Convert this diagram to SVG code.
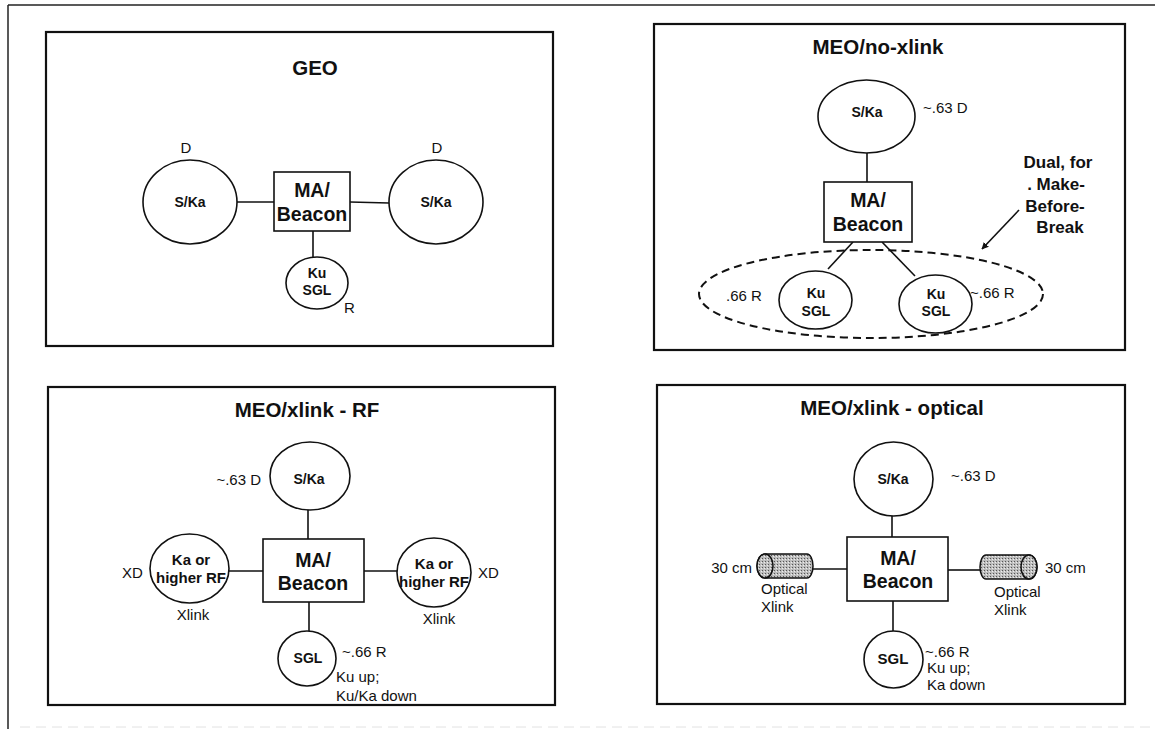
<svg xmlns="http://www.w3.org/2000/svg" width="1155" height="729" viewBox="0 0 1155 729">
<style>
text{font-family:"Liberation Sans",Arial,sans-serif;fill:#111}
.t{font-size:20.5px;font-weight:bold;text-anchor:middle}
.b{font-size:19.5px;font-weight:bold;text-anchor:middle}
.n{font-size:14px;font-weight:bold;text-anchor:middle}
.m{font-size:15px;font-weight:bold;text-anchor:middle}
.l{font-size:15px}
.panel{fill:none;stroke:#111;stroke-width:2.2}
.node{fill:#fff;stroke:#111;stroke-width:1.6}
.c{stroke:#111;stroke-width:1.6;fill:none}
.cyl{fill:url(#stip);stroke:#111;stroke-width:1.5}
</style>
<defs>
<pattern id="stip" width="3" height="3" patternUnits="userSpaceOnUse">
<rect width="3" height="3" fill="#bdbdbd"/>
<rect x="0" y="0" width="1" height="1" fill="#555"/>
<rect x="2" y="1" width="1" height="1" fill="#eee"/>
</pattern>
<marker id="ah" viewBox="0 0 10 10" refX="9" refY="5" markerWidth="7" markerHeight="7" orient="auto" markerUnits="userSpaceOnUse">
<path d="M0,0 L10,5 L0,10 Z" fill="#111"/>
</marker>
</defs>
<rect width="1155" height="729" fill="#fff"/>
<g id="frame">
<line x1="8" y1="5" x2="1155" y2="5" stroke="#222" stroke-width="1.5"/>
<line x1="8" y1="5" x2="8" y2="729" stroke="#222" stroke-width="1.5"/>
<line x1="20" y1="727" x2="1155" y2="727" stroke="#e2e2e2" stroke-width="1" stroke-dasharray="10 6"/>
</g>

<g id="panel-geo">
<rect class="panel" x="46" y="32" width="507" height="314"/>
<text class="t" x="315" y="75">GEO</text>
</g>
<g id="connectors">
<line class="c" x1="237" y1="202" x2="274" y2="202"/>
<line class="c" x1="350" y1="202" x2="389" y2="203"/>
<line class="c" x1="313" y1="231" x2="313" y2="257"/>
<line class="c" x1="867" y1="153" x2="867" y2="182"/>
<line class="c" x1="853" y1="242" x2="828" y2="269"/>
<line class="c" x1="882" y1="242" x2="915" y2="276"/>
<line class="c" x1="1019" y1="210" x2="982" y2="249" marker-end="url(#ah)"/>
<line class="c" x1="308" y1="510" x2="308" y2="539"/>
<line class="c" x1="229" y1="571" x2="263" y2="571"/>
<line class="c" x1="364" y1="571" x2="397" y2="571"/>
<line class="c" x1="309" y1="602" x2="309" y2="631"/>
<line class="c" x1="892" y1="516" x2="892" y2="537"/>
<line class="c" x1="813" y1="569" x2="847" y2="569"/>
<line class="c" x1="948" y1="570" x2="980" y2="570"/>
<line class="c" x1="893" y1="601" x2="893" y2="631"/>
</g>
<g id="geo-ska-left">
<ellipse class="node" cx="190" cy="202" rx="47" ry="42"/>
<text class="n" x="190" y="207">S/Ka</text>
<text class="l" x="186" y="153" text-anchor="middle">D</text>
</g>
<g id="geo-ma">
<rect class="node" x="274" y="172" width="76" height="59"/>
<text class="b" x="312" y="197">MA/</text>
<text class="b" x="312" y="221">Beacon</text>
</g>
<g id="geo-ska-right">
<ellipse class="node" cx="436" cy="202" rx="47" ry="42"/>
<text class="n" x="436" y="207">S/Ka</text>
<text class="l" x="437" y="153" text-anchor="middle">D</text>
</g>
<g id="geo-sgl">
<ellipse class="node" cx="317" cy="283" rx="31" ry="26"/>
<text class="n" x="317" y="278">Ku</text>
<text class="n" x="317" y="295">SGL</text>
<text class="l" x="344" y="313">R</text>
</g>

<g id="panel-meo-noxlink">
<rect class="panel" x="654" y="24" width="471" height="326"/>
<text class="t" x="878" y="54">MEO/no-xlink</text>
<ellipse cx="871" cy="294" rx="172" ry="44" fill="none" stroke="#111" stroke-width="2" stroke-dasharray="8 5"/>
<text class="m" x="1058" y="168" style="font-size:17px">Dual, for</text>
<text class="m" x="1056" y="190" style="font-size:17px">. Make-</text>
<text class="m" x="1055" y="212" style="font-size:17px">Before-</text>
<text class="m" x="1060" y="233" style="font-size:17px">Break</text>
</g>
<g id="nox-ska">
<ellipse class="node" cx="866.5" cy="116.5" rx="48.5" ry="36.5"/>
<text class="n" x="867" y="117">S/Ka</text>
<text class="l" x="923" y="113">~.63 D</text>
</g>
<g id="nox-ma">
<rect class="node" x="824" y="182" width="88" height="60"/>
<text class="b" x="868" y="207">MA/</text>
<text class="b" x="868" y="231">Beacon</text>
</g>
<g id="nox-sgl-left">
<ellipse class="node" cx="815.5" cy="300" rx="36.5" ry="29"/>
<text class="n" x="816" y="298">Ku</text>
<text class="n" x="816" y="316">SGL</text>
<text class="l" x="726" y="301">.66 R</text>
</g>
<g id="nox-sgl-right">
<ellipse class="node" cx="935.5" cy="304" rx="36.5" ry="29"/>
<text class="n" x="936" y="299">Ku</text>
<text class="n" x="936" y="316">SGL</text>
<text class="l" x="970" y="298">~.66 R</text>
</g>

<g id="panel-meo-rf">
<rect class="panel" x="48" y="387" width="507" height="318"/>
<text class="t" x="307" y="417">MEO/xlink - RF</text>
</g>
<g id="rf-ska">
<ellipse class="node" cx="310" cy="476" rx="40" ry="34"/>
<text class="n" x="309" y="484">S/Ka</text>
<text class="l" x="261" y="485" text-anchor="end">~.63 D</text>
</g>
<g id="rf-ma">
<rect class="node" x="263" y="539" width="101" height="63"/>
<text class="b" x="313" y="567">MA/</text>
<text class="b" x="313" y="590">Beacon</text>
</g>
<g id="rf-xlink-left">
<ellipse class="node" cx="189.5" cy="568.5" rx="39.5" ry="34.5"/>
<text class="m" x="191" y="565">Ka or</text>
<text class="m" x="191" y="583">higher RF</text>
<text class="l" x="122" y="578">XD</text>
<text class="l" x="193" y="620" text-anchor="middle">Xlink</text>
</g>
<g id="rf-xlink-right">
<ellipse class="node" cx="434" cy="572.5" rx="37" ry="34.5"/>
<text class="m" x="434" y="569">Ka or</text>
<text class="m" x="434" y="587">higher RF</text>
<text class="l" x="478" y="578">XD</text>
<text class="l" x="439" y="624" text-anchor="middle">Xlink</text>
</g>
<g id="rf-sgl">
<ellipse class="node" cx="307" cy="658.5" rx="29" ry="27.5"/>
<text class="n" x="308" y="663">SGL</text>
<text class="l" x="342" y="657">~.66 R</text>
<text class="l" x="336" y="682">Ku up;</text>
<text class="l" x="336" y="701">Ku/Ka down</text>
</g>

<g id="panel-meo-optical">
<rect class="panel" x="657" y="385" width="468" height="319"/>
<text class="t" x="892" y="415">MEO/xlink - optical</text>
</g>
<g id="opt-ska">
<ellipse class="node" cx="893.5" cy="479" rx="39.5" ry="37"/>
<text class="n" x="893" y="484">S/Ka</text>
<text class="l" x="951" y="481">~.63 D</text>
</g>
<g id="opt-ma">
<rect class="node" x="847" y="537" width="101" height="64"/>
<text class="b" x="898" y="565">MA/</text>
<text class="b" x="898" y="588">Beacon</text>
</g>
<g id="opt-xlink-left">
<path class="cyl" d="M765,554 L807,554 A6,12 0 0 1 807,578 L765,578 A8,12 0 0 1 765,554 Z"/>
<ellipse class="cyl" cx="765" cy="566" rx="8" ry="12"/>
<text class="l" x="752" y="573" text-anchor="end">30 cm</text>
<text class="l" x="761" y="594">Optical</text>
<text class="l" x="761" y="612">Xlink</text>
</g>
<g id="opt-xlink-right">
<path class="cyl" d="M986,555 L1029,555 A8,12 0 0 1 1029,579 L986,579 A6,12 0 0 1 986,555 Z"/>
<ellipse class="cyl" cx="1029" cy="567" rx="8" ry="12"/>
<text class="l" x="1045" y="573">30 cm</text>
<text class="l" x="994" y="597">Optical</text>
<text class="l" x="994" y="615">Xlink</text>
</g>
<g id="opt-sgl">
<ellipse class="node" cx="893.5" cy="659.5" rx="29.5" ry="28.5"/>
<text class="m" x="893" y="664">SGL</text>
<text class="l" x="925" y="657">~.66 R</text>
<text class="l" x="927" y="673">Ku up;</text>
<text class="l" x="927" y="690">Ka down</text>
</g>
</svg>
